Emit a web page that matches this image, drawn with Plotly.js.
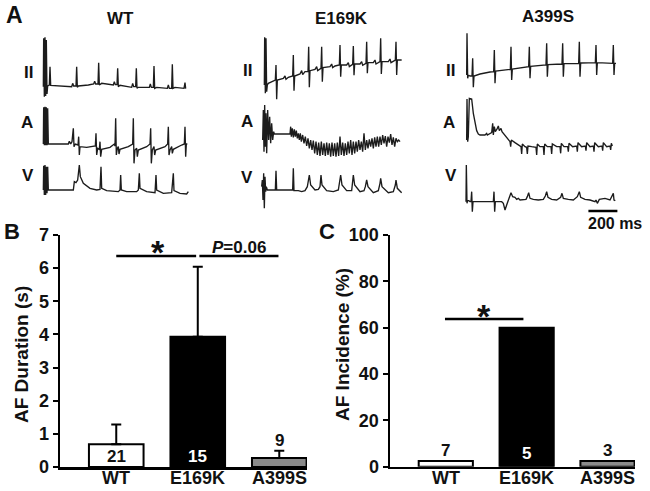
<!DOCTYPE html>
<html><head><meta charset="utf-8">
<script src="https://cdn.plot.ly/plotly-3.0.1.min.js"></script>
<style>html,body{margin:0;padding:0;background:#fff}#chart{width:650px;height:491px}</style>
</head><body><div id="chart"></div>
<script>
// ---------- bar chart data ----------
const groups = ['WT', 'E169K', 'A399S'];
const afDuration = [0.69, 3.93, 0.27];      // s
const afDurationSEM = [0.59, 2.11, 0.22];   // s (upper error)
const afDurationN = [21, 15, 9];
const afIncidence = [2.5, 60, 2.5];         // %
const afIncidenceN = [7, 5, 3];

// ---------- ECG traces: [sample index, amplitude (a.u.)] ; 1 sample = 2.3 ms ----------
const SAMPLE_MS = 2.3;
const WT_II = [[0,40],[1,185],[3,10],[5,188],[7,12],[9,180],[11,18],[13,42],[18,45],[20,100],[22,44],[60,42],[85,40],[88,50],[91,42],[98,42],[100,100],[102,38],[105,42],[135,45],[151,48],[154,56],[157,48],[164,48],[166,112],[168,45],[175,50],[210,45],[213,55],[216,46],[221,46],[223,95],[225,40],[230,44],[265,38],[268,50],[271,40],[277,40],[279,95],[281,35],[285,38],[318,38],[321,48],[324,38],[330,38],[332,102],[334,35],[340,38],[372,35],[375,45],[378,35],[385,35],[387,107],[389,35],[395,38],[422,35],[425,52],[427,34]];
const WT_A = [[0,63],[1,173],[3,59],[5,175],[7,59],[9,173],[11,59],[13,170],[15,63],[75,63],[78,71],[82,63],[86,70],[90,110],[92,55],[96,63],[104,60],[106,85],[108,30],[110,55],[130,53],[150,55],[156,57],[158,95],[160,30],[163,50],[168,47],[170,70],[172,25],[175,47],[200,53],[213,63],[215,57],[217,140],[219,30],[222,50],[225,55],[227,33],[230,47],[255,55],[268,63],[270,140],[272,5],[275,45],[280,50],[282,25],[285,45],[310,55],[320,63],[322,110],[324,5],[327,45],[332,55],[334,30],[337,45],[365,55],[373,63],[375,115],[377,30],[380,45],[385,55],[387,35],[390,47],[415,60],[423,63],[425,115],[427,25],[429,63],[432,63]];
const WT_V = [[0,75],[1,148],[3,60],[5,150],[7,60],[9,145],[11,65],[13,145],[15,75],[90,75],[93,100],[98,97],[103,105],[108,150],[111,115],[120,95],[140,80],[160,75],[170,77],[173,145],[175,80],[190,73],[225,70],[230,75],[232,120],[234,75],[250,70],[280,70],[285,75],[288,125],[290,80],[310,70],[335,67],[338,120],[340,75],[360,65],[385,67],[390,125],[392,73],[410,65],[430,63],[435,70]];

const E169K_II = [[5,45],[6,188],[8,20],[10,185],[12,25],[14,45],[17,50],[32,58],[38,60],[40,105],[42,2],[44,60],[62,65],[67,72],[70,62],[77,68],[90,72],[92,135],[94,28],[96,72],[112,78],[117,88],[120,76],[127,85],[136,85],[138,160],[140,38],[142,88],[157,92],[162,100],[165,88],[175,95],[177,160],[179,55],[181,97],[202,100],[207,108],[210,97],[217,102],[230,105],[232,165],[234,70],[236,105],[252,105],[257,112],[260,100],[270,107],[272,162],[274,74],[276,108],[292,108],[297,115],[300,104],[310,110],[312,175],[314,80],[316,112],[332,112],[337,120],[340,108],[352,115],[354,185],[356,78],[358,115],[377,115],[382,123],[385,112],[398,120],[400,175],[402,75],[404,120],[417,120]];
const E169K_A = [[0,75],[2,165],[4,40],[6,180],[8,55],[10,155],[12,35],[15,165],[18,75],[21,145],[24,65],[27,125],[30,75],[33,100],[35,93],[82,93],[84,115],[86,85],[89,110],[92,83],[95,107],[98,85],[101,103],[104,80],[107,95],[110,75],[113,95],[116,70],[120,90],[124,65],[128,85],[132,57],[136,80],[140,50],[144,75],[148,45],[152,73],[156,35],[160,70],[164,30],[168,67],[172,27],[176,70],[180,30],[184,65],[188,27],[192,67],[196,30],[200,65],[204,25],[208,67],[212,27],[216,65],[220,25],[224,67],[228,27],[232,85],[236,30],[240,67],[244,27],[248,65],[252,30],[256,70],[260,35],[264,75],[268,30],[272,70],[276,35],[280,70],[284,40],[288,75],[292,45],[296,70],[300,40],[304,95],[308,45],[312,75],[316,50],[320,77],[324,55],[328,80],[332,50],[336,83],[340,55],[344,85],[348,55],[352,85],[356,60],[360,90],[364,65],[368,87],[372,55],[376,85],[380,67],[384,93],[388,60],[392,83],[396,55],[400,80],[404,70],[408,75],[412,70]];
const E169K_V = [[-3,85],[-1,105],[1,45],[3,125],[5,20],[7,115],[9,70],[11,85],[14,75],[38,75],[40,133],[42,75],[90,75],[92,140],[94,73],[107,73],[117,70],[127,73],[134,85],[140,120],[144,90],[157,75],[167,77],[172,85],[175,120],[178,90],[192,73],[212,70],[227,75],[232,105],[234,120],[238,90],[252,73],[267,73],[270,100],[272,120],[276,90],[292,70],[304,73],[308,85],[312,105],[316,85],[332,67],[347,73],[352,95],[354,110],[358,85],[377,67],[392,70],[398,90],[400,105],[404,80],[417,67]];

const A399S_II = [[0,75],[1,200],[3,65],[5,75],[10,72],[16,72],[18,125],[20,38],[22,72],[40,78],[70,84],[81,85],[83,150],[85,50],[87,87],[110,90],[131,92],[133,160],[135,60],[137,93],[160,97],[186,100],[188,160],[190,65],[192,101],[215,104],[238,105],[240,170],[242,70],[244,106],[265,107],[286,108],[288,170],[290,70],[292,109],[315,110],[336,110],[338,175],[340,70],[342,111],[365,112],[386,112],[388,165],[390,75],[392,112],[415,112],[438,110],[440,165],[442,75],[444,110],[448,110]];
const A399S_A = [[0,75],[1,198],[3,70],[5,85],[8,200],[15,198],[20,155],[25,125],[30,103],[35,93],[40,90],[55,90],[60,95],[62,90],[70,93],[75,97],[78,125],[80,90],[83,115],[86,100],[92,110],[95,117],[98,103],[103,110],[106,100],[115,90],[125,77],[130,70],[132,55],[134,75],[145,67],[155,60],[163,55],[165,33],[167,63],[175,55],[180,53],[182,33],[184,57],[195,55],[208,53],[210,30],[212,63],[220,55],[230,55],[232,30],[234,63],[242,55],[253,55],[255,33],[257,63],[270,55],[280,55],[282,35],[284,65],[292,55],[303,55],[305,40],[307,65],[318,55],[330,57],[332,40],[334,67],[345,55],[356,57],[358,43],[360,67],[370,55],[380,57],[382,40],[384,67],[395,55],[406,57],[408,43],[410,67],[420,55],[430,57],[432,45],[434,65],[437,57]];
const A399S_V = [[-2,40],[-1,150],[1,35],[3,45],[10,40],[13,40],[15,70],[17,10],[19,40],[80,40],[82,70],[84,10],[86,40],[105,40],[110,35],[115,15],[120,30],[125,45],[130,55],[133,67],[138,55],[145,53],[150,47],[155,50],[160,45],[170,45],[178,47],[182,55],[186,67],[190,50],[200,47],[215,45],[230,47],[236,57],[240,70],[244,53],[255,47],[270,45],[282,53],[286,65],[290,50],[305,47],[320,45],[332,55],[338,70],[342,53],[355,47],[370,45],[385,40],[388,45],[392,35],[398,47],[415,50],[430,45],[438,60],[440,65],[442,45],[446,43]];

const SCALE_BAR_MS = 200;

// ---------- helpers ----------
const W = 650, H = 491;
const FONT = 'Liberation Sans, Arial, Helvetica, sans-serif';
const INK = '#111';
const dx = (a, b) => [a / W, b / W];
const dy = (top, bottom) => [1 - bottom / H, 1 - top / H];
const MS_PER_PX = 6.9;

function ecg(pairs, xa, ya) {
  return {
    type: 'scatter', mode: 'lines', xaxis: xa, yaxis: ya,
    x: pairs.map(p => p[0] * SAMPLE_MS), y: pairs.map(p => p[1]),
    line: {color: '#1c1c1c', width: 1.35}, hoverinfo: 'skip', showlegend: false
  };
}

const traces = [
  ecg(WT_II, 'x', 'y'), ecg(WT_A, 'x', 'y2'), ecg(WT_V, 'x', 'y3'),
  ecg(E169K_II, 'x2', 'y'), ecg(E169K_A, 'x2', 'y2'), ecg(E169K_V, 'x2', 'y3'),
  ecg(A399S_II, 'x3', 'y'), ecg(A399S_A, 'x3', 'y2'), ecg(A399S_V, 'x3', 'y3'),
  {
    type: 'bar', x: groups, y: afDuration, xaxis: 'x4', yaxis: 'y4', width: 0.67,
    marker: {color: ['#ffffff', '#000000', '#8a8a8a'], line: {color: '#000', width: 2}},
    error_y: {type: 'data', symmetric: false, array: afDurationSEM, arrayminus: [0, 0, 0],
              color: '#000', thickness: 2, width: 5},
    showlegend: false, hoverinfo: 'skip'
  },
  {
    type: 'bar', x: groups, y: afIncidence, xaxis: 'x5', yaxis: 'y5', width: 0.67,
    marker: {color: ['#ffffff', '#000000', '#8a8a8a'], line: {color: '#000', width: 2}},
    showlegend: false, hoverinfo: 'skip'
  }
];

function ecgX(p0, p1, t0px) {
  return {domain: dx(p0, p1), range: [(p0 - t0px) * MS_PER_PX, (p1 - t0px) * MS_PER_PX],
          visible: false, fixedrange: true};
}
function ecgY(top, bottom, span) {
  return {domain: dy(top, bottom), range: [0, span], visible: false, fixedrange: true};
}
const tickFont = {family: FONT, size: 18, color: INK, weight: 'bold'};
function barX(p0, p1, anchor) {
  return {domain: dx(p0, p1), range: [-0.69, 2.34], type: 'category', anchor: anchor,
          showline: true, linewidth: 2.5, linecolor: '#000', ticks: '', showgrid: false,
          zeroline: false, showticklabels: false, fixedrange: true};
}
function barY(top, bottom, maxv, dtick, anchor) {
  return {domain: dy(top, bottom), range: [0, maxv], dtick: dtick, anchor: anchor,
          showline: true, linewidth: 2.5, linecolor: '#000', ticks: 'outside', ticklen: 5,
          tickwidth: 2, tickcolor: '#000', showgrid: false, zeroline: false,
          tickfont: tickFont, fixedrange: true};
}

function note(text, px, py, size, extra) {
  return Object.assign({text: '<b>' + text + '</b>', xref: 'paper', yref: 'paper',
    x: px / W, y: 1 - py / H, xanchor: 'center', yanchor: 'middle', showarrow: false,
    font: {family: FONT, size: size, color: INK}}, extra || {});
}
function dataNote(text, xa, ya, x, y, color) {
  return {text: '<b>' + text + '</b>', xref: xa, yref: ya, x: x, y: y, xanchor: 'center',
    yanchor: 'middle', showarrow: false, font: {family: FONT, size: 17, color: color}};
}
// category labels under the bar panels
function catLabel(text, xa, i) {
  return {text: '<b>' + text + '</b>', xref: xa, yref: 'paper', x: i, y: 1 - 478 / H,
    xanchor: 'center', yanchor: 'middle', showarrow: false,
    font: {family: FONT, size: 18, color: INK}};
}

const annotations = [
  note('A', 14, 15, 23), note('B', 12, 232, 22), note('C', 327, 232, 22),
  note('WT', 120, 19, 17), note('E169K', 341, 18, 17), note('A399S', 548, 17, 17),
  note('II', 28, 72, 17), note('A', 27, 123, 17), note('V', 28, 176, 17),
  note('II', 247, 71, 17), note('A', 247, 122, 17), note('V', 247, 177, 17),
  note('II', 450, 70, 17), note('A', 449, 123, 17), note('V', 451, 176, 17),
  note('200 ms', 615, 223, 16),
  note('AF Duration (s)', 21, 355, 19, {textangle: -90}),
  note('AF Incidence (%)', 342, 345, 19, {textangle: -90}),
  note('*', 158, 252, 34), note('<i>P</i>=0.06', 239, 247, 17),
  note('*', 484, 316, 34),
  dataNote(afDurationN[0], 'x4', 'y4', 0, 0.33, INK),
  dataNote(afDurationN[1], 'x4', 'y4', 1, 0.33, '#fff'),
  dataNote(afDurationN[2], 'x4', 'y4', 2, 0.8, INK),
  dataNote(afIncidenceN[0], 'x5', 'y5', 0, 7, INK),
  dataNote(afIncidenceN[1], 'x5', 'y5', 1, 5.5, '#fff'),
  dataNote(afIncidenceN[2], 'x5', 'y5', 2, 7, INK)
];
groups.forEach((g, i) => {
  annotations.push(catLabel(g, 'x4', i));
  annotations.push(catLabel(g, 'x5', i));
});

const sigLine = (xa, ya, x0, x1, y) => ({type: 'line', xref: xa, yref: ya, x0: x0, x1: x1,
  y0: y, y1: y, line: {color: '#000', width: 2.5}});
const shapes = [
  sigLine('x4', 'y4', 0.0, 0.98, 6.37),
  sigLine('x4', 'y4', 1.02, 1.99, 6.37),
  sigLine('x5', 'y5', -0.01, 0.96, 63.7),
  {type: 'line', xref: 'x3', yref: 'y3', x0: 840, x1: 840 + SCALE_BAR_MS, y0: 12, y1: 12,
   line: {color: '#000', width: 2.5}}
];

const layout = {
  width: W, height: H, margin: {l: 0, r: 0, t: 0, b: 0},
  paper_bgcolor: '#fff', plot_bgcolor: 'rgba(0,0,0,0)', showlegend: false,
  font: {family: FONT, color: INK},
  xaxis: ecgX(38, 195, 130 / 3),
  xaxis2: ecgX(255, 412, 220 + 128 / 3),
  xaxis3: ecgX(460, 630, 440 + 80 / 3),
  yaxis: ecgY(30, 100, 210),
  yaxis2: ecgY(95, 165, 210),
  yaxis3: ecgY(150, 215, 195),
  xaxis4: barX(60, 307, 'y4'),
  yaxis4: barY(235, 467, 7, 1, 'x4'),
  xaxis5: barX(390, 635, 'y5'),
  yaxis5: barY(235, 466.7, 100, 20, 'x5'),
  annotations: annotations, shapes: shapes
};

Plotly.newPlot('chart', traces, layout, {staticPlot: true, displayModeBar: false});
</script></body></html>
